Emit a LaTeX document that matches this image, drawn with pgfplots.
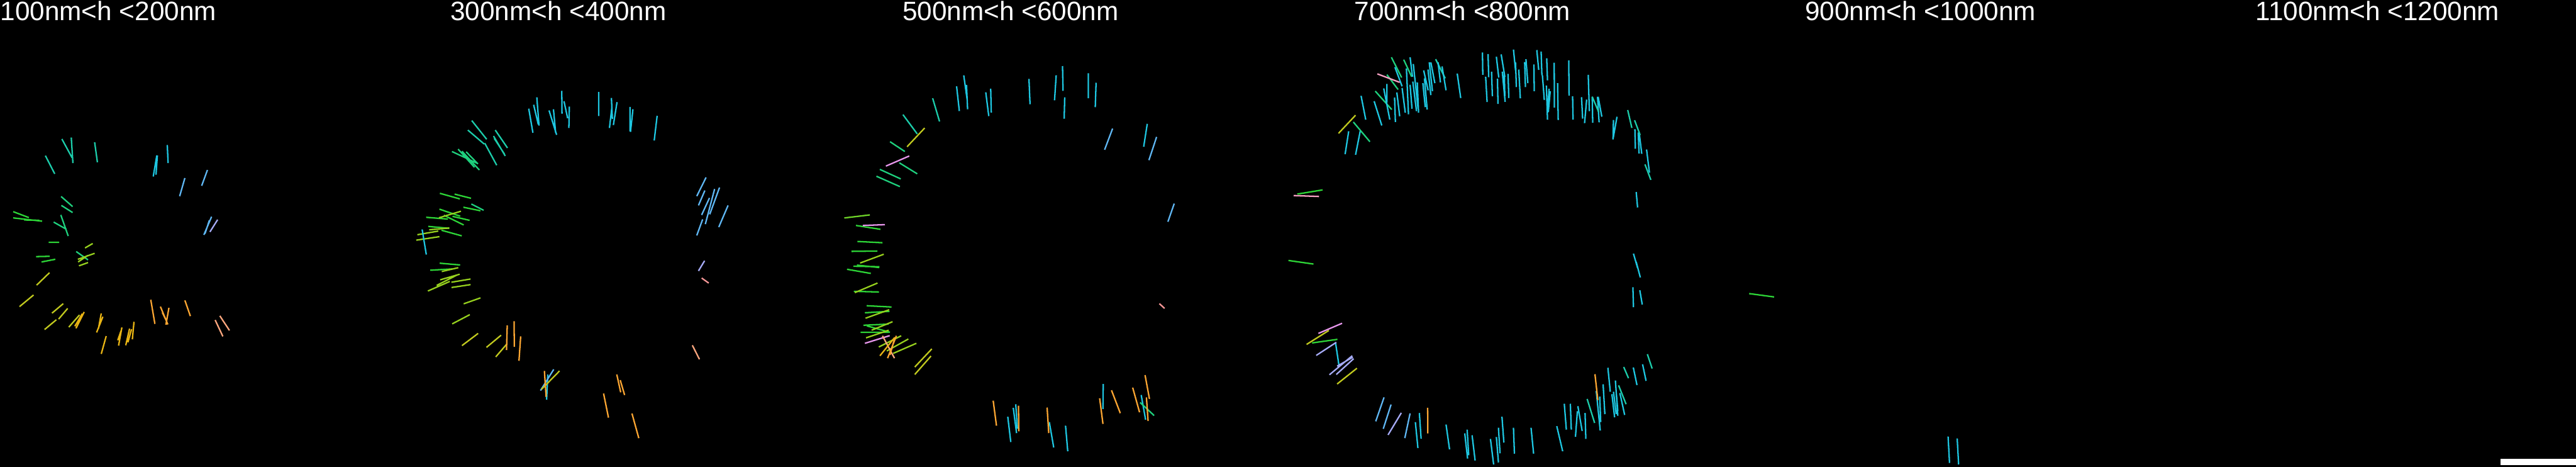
\documentclass[border=0pt]{standalone}
\usepackage{pgfplots}
\pgfplotsset{compat=1.18}
\usepackage{fontspec}
\setmainfont{Liberation Sans}
\definecolor{cy}{RGB}{30,198,224}
\definecolor{tl}{RGB}{28,204,170}
\definecolor{tg}{RGB}{30,208,125}
\definecolor{gr}{RGB}{45,212,55}
\definecolor{lg}{RGB}{110,210,40}
\definecolor{yg}{RGB}{150,208,30}
\definecolor{ol}{RGB}{192,200,30}
\definecolor{gd}{RGB}{232,180,20}
\definecolor{orc}{RGB}{250,165,50}
\definecolor{sa}{RGB}{250,165,125}
\definecolor{rose}{RGB}{245,150,150}
\definecolor{lb}{RGB}{95,182,242}
\definecolor{pw}{RGB}{165,170,245}
\definecolor{vi}{RGB}{230,150,235}
\definecolor{pk}{RGB}{245,160,195}
\pgfplotsset{
  seg/.style={hide axis, scale only axis, clip=false, y dir=reverse,
    unbounded coords=jump, anchor=north west,
    every axis plot/.append style={line width=0.75pt, mark=none}},
}
\begin{document}
\begin{tikzpicture}
\useasboundingbox (0,0) rectangle (1343.5pt,-243.25pt);
\fill[black] (0,0) rectangle (1343.5pt,-243.25pt);

% main axis: full-resolution pixel coordinates
\begin{axis}[seg, at={(0pt,0pt)}, width=1343.5pt, height=243.25pt,
  xmin=0, xmax=5374, ymin=0, ymax=973]
\addplot[gr] coordinates {(3649,612) (3701,619)};
\addplot[cy] coordinates {(4064,910) (4067,965) (nan,nan) (4083,914) (4086,968)};
\fill[white] (axis cs:5216,956) rectangle (axis cs:5374,970);
\begin{scope}[every node/.style={anchor=base west, inner sep=0pt, text=white, font=\fontsize{13.875}{16}\selectfont}]
\node at (axis cs:0,43) {100nm<h <200nm};
\node at (axis cs:939,43) {300nm<h <400nm};
\node at (axis cs:1882,43) {500nm<h <600nm};
\node at (axis cs:2825,43) {700nm<h <800nm};
\node at (axis cs:3765,43) {900nm<h <1000nm};
\node at (axis cs:4705,43) {1100nm<h <1200nm};
\end{scope}
\end{axis}

% panel 1
\begin{axis}[seg, at={(0pt,0pt)}, width=225pt, height=243.25pt,
  xmin=0, xmax=1568, ymin=0, ymax=1568]
\addplot[tl] coordinates {(225,467)(262,530) (nan,nan) (259,462)(265,548) (nan,nan) (344,478)(354,545) (nan,nan) (165,523)(199,584)};
\addplot[cy] coordinates {(570,522)(557,593) (nan,nan) (572,522)(567,587) (nan,nan) (608,487)(611,548)};
\addplot[lb] coordinates {(672,598)(653,659) (nan,nan) (754,571)(733,624) (nan,nan) (769,728)(741,789) (nan,nan) (761,740)(745,785)};
\addplot[pw] coordinates {(791,738)(763,779)};
\addplot[tg] coordinates {(222,660)(264,694) (nan,nan) (223,690)(264,714) (nan,nan) (221,722)(248,793) (nan,nan) (195,746)(241,770) (nan,nan) (277,845)(320,873)};
\addplot[gr] coordinates {(48,711)(105,731) (nan,nan) (48,732)(153,743) (nan,nan) (88,739)(143,740) (nan,nan) (177,814)(215,814) (nan,nan) (131,862)(181,861) (nan,nan) (151,880)(201,871)};
\addplot[yg] coordinates {(309,833)(337,818) (nan,nan) (283,871)(344,851) (nan,nan) (284,880)(319,858) (nan,nan) (287,893)(320,882)};
\addplot[ol] coordinates {(133,958)(180,916) (nan,nan) (71,1030)(122,991) (nan,nan) (189,1052)(230,1020) (nan,nan) (213,1072)(246,1036) (nan,nan) (162,1107)(205,1074) (nan,nan) (250,1099)(289,1058)};
\addplot[gd] coordinates {(276,1103)(306,1048) (nan,nan) (272,1096)(299,1054) (nan,nan) (351,1117)(374,1064) (nan,nan) (358,1103)(368,1053) (nan,nan) (368,1189)(386,1129) (nan,nan) (431,1161)(443,1100) (nan,nan) (428,1143)(440,1111) (nan,nan) (457,1160)(471,1104) (nan,nan) (465,1150)(478,1106) (nan,nan) (481,1140)(487,1081)};
\addplot[orc] coordinates {(548,1007)(563,1088) (nan,nan) (583,1030)(610,1090) (nan,nan) (590,1050)(605,1078) (nan,nan) (614,1034)(603,1091) (nan,nan) (672,1009)(692,1062)};
\addplot[sa] coordinates {(782,1075)(810,1130) (nan,nan) (799,1061)(834,1110)};
\end{axis}

% panel 2 (outer parts)
\begin{axis}[seg, at={(212.5pt,0pt)}, width=200pt, height=243.25pt,
  xmin=0, xmax=1568, ymin=0, ymax=1568]
\addplot[cy] coordinates {(496,365)(513,446) (nan,nan) (516,352)(535,418) (nan,nan) (529,327)(538,422) (nan,nan) (579,371)(605,440) (nan,nan) (597,367)(606,446) (nan,nan) (590,400)(610,453) (nan,nan) (631,305)(632,382) (nan,nan) (640,340)(655,397) (nan,nan) (662,358)(660,430) (nan,nan) (782,309)(782,390) (nan,nan) (834,329)(838,400) (nan,nan) (836,360)(826,430) (nan,nan) (857,343)(842,420) (nan,nan) (910,359)(910,441) (nan,nan) (922,367)(912,443) (nan,nan) (1021,389)(1009,472) (nan,nan) (574,1258)(569,1343)};
\addplot[tl] coordinates {(263,405)(324,468) (nan,nan) (247,437)(314,484) (nan,nan) (316,481)(365,555) (nan,nan) (359,437)(409,497) (nan,nan) (352,457)(400,524) (nan,nan) (355,465)(397,518)};
\addplot[tg] coordinates {(182,509)(289,550) (nan,nan) (207,501)(274,562) (nan,nan) (223,508)(294,571) (nan,nan) (240,510)(285,548)};
\addplot[lb] coordinates {(1221,596)(1183,659) (nan,nan) (1216,640)(1190,690) (nan,nan) (1256,635)(1218,753) (nan,nan) (1276,630)(1236,720) (nan,nan) (1235,665)(1203,722) (nan,nan) (1207,737)(1183,791) (nan,nan) (1311,690)(1273,763) (nan,nan) (598,1241)(544,1312)};
\addplot[pw] coordinates {(1215,876)(1190,910)};
\addplot[rose] coordinates {(1203,934)(1232,951)};
\addplot[yg] coordinates {(183,1088)(255,1057)};
\addplot[ol] coordinates {(223,1161)(289,1120) (nan,nan) (323,1167)(383,1126) (nan,nan) (361,1199)(405,1157) (nan,nan) (622,1246)(548,1308)};
\addplot[orc] coordinates {(408,1093)(405,1176) (nan,nan) (436,1079)(437,1165) (nan,nan) (463,1130)(456,1212) (nan,nan) (560,1246)(567,1333) (nan,nan) (856,1258)(872,1318) (nan,nan) (870,1277)(888,1327) (nan,nan) (802,1322)(822,1403) (nan,nan) (918,1389)(946,1472)};
\addplot[sa] coordinates {(1165,1160)(1194,1207)};
\end{axis}

% panel 2 left cluster
\begin{axis}[seg, at={(212.5pt,-80pt)}, width=75pt, height=82.5pt,
  xmin=0, xmax=900, ymin=0, ymax=990]
\addplot[gr] coordinates {(203,249)(328,284) (nan,nan) (295,254)(398,280) (nan,nan) (350,336)(457,358) (nan,nan) (200,348)(330,392) (nan,nan) (117,399)(253,410) (nan,nan) (282,393)(389,418) (nan,nan) (228,386)(352,447) (nan,nan) (131,456)(262,468) (nan,nan) (213,480)(340,515) (nan,nan) (202,686)(330,697) (nan,nan) (143,730)(280,722)};
\addplot[tg] coordinates {(400,316)(477,355)};
\addplot[yg] coordinates {(197,402)(335,361) (nan,nan) (136,477)(262,466) (nan,nan) (62,508)(193,485) (nan,nan) (55,542)(200,520) (nan,nan) (215,738)(318,714) (nan,nan) (205,790)(327,755) (nan,nan) (183,825)(310,760) (nan,nan) (128,860)(265,800) (nan,nan) (275,805)(395,785) (nan,nan) (276,838)(395,820) (nan,nan) (352,940)(457,903)};
\addplot[cy] coordinates {(92,475)(118,632)};
\end{axis}

% panel 3 (outer parts)
\begin{axis}[seg, at={(425pt,0pt)}, width=225pt, height=243.25pt,
  xmin=0, xmax=1568, ymin=0, ymax=1568]
\addplot[tl] coordinates {(428,330)(453,408) (nan,nan) (320,385)(372,450)};
\addplot[cy] coordinates {(515,290)(525,373) (nan,nan) (541,253)(553,332) (nan,nan) (551,285)(555,367) (nan,nan) (621,310)(632,390) (nan,nan) (639,298)(641,378) (nan,nan) (778,265)(782,350) (nan,nan) (877,253)(871,337) (nan,nan) (900,222)(902,305) (nan,nan) (908,327)(906,399) (nan,nan) (994,246)(994,330) (nan,nan) (1022,278)(1019,360) (nan,nan) (1208,416)(1195,493) (nan,nan) (701,1400)(712,1485) (nan,nan) (721,1370)(733,1455) (nan,nan) (730,1358)(736,1440) (nan,nan) (852,1418)(868,1503) (nan,nan) (911,1430)(919,1516) (nan,nan) (1048,1290)(1047,1374) (nan,nan) (1186,1327)(1202,1410)};
\addplot[lb] coordinates {(1082,432)(1053,503) (nan,nan) (1242,460)(1214,538) (nan,nan) (1306,684)(1283,745)};
\addplot[rose] coordinates {(1252,1020)(1271,1036)};
\addplot[ol] coordinates {(399,430)(335,493) (nan,nan) (425,1172)(363,1233) (nan,nan) (422,1196)(363,1258)};
\addplot[tg] coordinates {(273,476)(327,509) (nan,nan) (307,547)(372,584) (nan,nan) (236,569)(312,601) (nan,nan) (1182,1352)(1233,1396)};
\addplot[vi] coordinates {(258,558)(343,524)};
\addplot[orc] coordinates {(648,1346)(660,1430) (nan,nan) (740,1363)(741,1449) (nan,nan) (844,1369)(850,1455) (nan,nan) (1035,1338)(1047,1424) (nan,nan) (1078,1311)(1110,1388) (nan,nan) (1155,1302)(1180,1385) (nan,nan) (1200,1260)(1216,1340) (nan,nan) (1205,1335)(1211,1414)};
\end{axis}

% panel 3 left cluster
\begin{axis}[seg, at={(435pt,-90pt)}, width=65pt, height=100pt,
  xmin=0, xmax=780, ymin=0, ymax=1200]
\addplot[tg] coordinates {(265,22)(412,87)};
\addplot[lg] coordinates {(64,283)(224,264)};
\addplot[gr] coordinates {(137,330)(290,354) (nan,nan) (146,430)(303,438) (nan,nan) (109,492)(271,490) (nan,nan) (121,585)(284,588) (nan,nan) (143,578)(283,593) (nan,nan) (81,604)(230,630) (nan,nan) (124,742)(281,746) (nan,nan) (204,832)(360,840) (nan,nan) (193,876)(347,867) (nan,nan) (184,954)(341,947) (nan,nan) (205,958)(350,998) (nan,nan) (166,998)(342,998)};
\addplot[vi] coordinates {(180,330)(318,325) (nan,nan) (193,1067)(348,1019)};
\addplot[yg] coordinates {(163,565)(311,510) (nan,nan) (130,750)(272,690) (nan,nan) (197,910)(345,857) (nan,nan) (235,985)(366,932) (nan,nan) (200,1033)(342,985) (nan,nan) (280,1090)(420,1020) (nan,nan) (330,1115)(465,1040) (nan,nan) (370,1130)(515,1067)};
\addplot[sa] coordinates {(303,1020)(378,1160)};
\addplot[gd] coordinates {(287,1145)(380,1030)};
\addplot[orc] coordinates {(335,1160)(390,1020) (nan,nan) (350,1140)(375,1050)};
\end{axis}

% panel 4 (outer parts)
\begin{axis}[seg, at={(662.5pt,0pt)}, width=225pt, height=243.25pt,
  xmin=0, xmax=1568, ymin=0, ymax=1568]
\addplot[cy] coordinates {(330,322)(347,402) (nan,nan) (272,518)(285,441) (nan,nan) (310,520)(327,440) (nan,nan) (237,1150)(250,1230) (nan,nan) (1330,645)(1335,697) (nan,nan) (1320,852)(1335,900) (nan,nan) (1330,880)(1345,932) (nan,nan) (1318,965)(1320,1032) (nan,nan) (1343,975)(1352,1023)};
\addplot[ol] coordinates {(248,448)(310,387) (nan,nan) (132,1157)(213,1110) (nan,nan) (243,1290)(315,1237)};
\addplot[tg] coordinates {(302,410)(362,476)};
\addplot[gr] coordinates {(98,652)(190,638) (nan,nan) (66,875)(157,887) (nan,nan) (152,1152)(244,1140)};
\addplot[pk] coordinates {(85,657)(177,660)};
\addplot[vi] coordinates {(175,1120)(261,1086)};
\addplot[pw] coordinates {(167,1194)(240,1150) (nan,nan) (215,1259)(298,1195) (nan,nan) (240,1258)(303,1205) (nan,nan) (243,1230)(300,1200)};
\end{axis}

% panel 4 top left
\begin{axis}[seg, at={(715pt,-20pt)}, width=75pt, height=75pt,
  xmin=0, xmax=900, ymin=0, ymax=900]
\addplot[tg] coordinates {(128,118)(192,245) (nan,nan) (205,133)(255,240) (nan,nan) (100,227)(170,320) (nan,nan) (27,330)(130,445)};
\addplot[tl] coordinates {(405,130)(465,250)};
\addplot[cy] coordinates {(20,393)(68,545) (nan,nan) (80,313)(118,508) (nan,nan) (100,285)(100,400) (nan,nan) (148,370)(153,523) (nan,nan) (162,338)(180,487) (nan,nan) (150,180)(195,300) (nan,nan) (195,310)(215,465) (nan,nan) (222,188)(235,475) (nan,nan) (245,118)(260,240) (nan,nan) (245,290)(257,440) (nan,nan) (265,160)(295,440) (nan,nan) (262,270)(285,455) (nan,nan) (290,275)(298,465) (nan,nan) (330,200)(358,325) (nan,nan) (325,280)(340,430) (nan,nan) (335,250)(352,445) (nan,nan) (357,195)(375,355) (nan,nan) (365,150)(385,330) (nan,nan) (375,150)(400,280) (nan,nan) (445,175)(470,325) (nan,nan) (420,150)(435,275) (nan,nan) (540,220)(562,373) (nan,nan) (698,88)(700,228) (nan,nan) (733,98)(737,243) (nan,nan) (718,240)(727,398) (nan,nan) (755,208)(760,362) (nan,nan) (785,115)(800,245) (nan,nan) (792,252)(795,410) (nan,nan) (815,100)(838,240) (nan,nan) (822,208)(840,397) (nan,nan) (835,225)(838,362) (nan,nan) (858,222)(863,373)};
\addplot[pk] coordinates {(40,222)(180,275)};
\end{axis}

% panel 4 top right
\begin{axis}[seg, at={(787.5pt,-20pt)}, width=80pt, height=80pt,
  xmin=0, xmax=960, ymin=0, ymax=960]
\addplot[cy] coordinates {(22,70)(35,200) (nan,nan) (35,150)(40,305) (nan,nan) (55,195)(65,375) (nan,nan) (92,148)(97,305) (nan,nan) (100,130)(112,280) (nan,nan) (150,163)(152,330) (nan,nan) (168,73)(180,197) (nan,nan) (195,82)(200,230) (nan,nan) (203,230)(215,385) (nan,nan) (230,125)(235,262) (nan,nan) (228,295)(235,508) (nan,nan) (245,315)(235,465) (nan,nan) (252,330)(240,460) (nan,nan) (277,152)(278,433) (nan,nan) (298,280)(302,510) (nan,nan) (368,137)(370,358) (nan,nan) (392,362)(395,508) (nan,nan) (448,368)(455,502) (nan,nan) (480,383)(467,530) (nan,nan) (490,228)(497,455) (nan,nan) (515,365)(518,528) (nan,nan) (548,365)(558,525) (nan,nan) (552,365)(575,490) (nan,nan) (648,510)(645,632) (nan,nan) (670,490)(645,630) (nan,nan) (782,568)(785,690) (nan,nan) (803,588)(808,720) (nan,nan) (810,600)(825,722) (nan,nan) (855,695)(873,840)};
\addplot[tl] coordinates {(515,365)(555,460) (nan,nan) (737,448)(763,560) (nan,nan) (780,512)(815,605) (nan,nan) (845,788)(882,885)};
\end{axis}

% panel 4 bottom left
\begin{axis}[seg, at={(712.5pt,-162.5pt)}, width=80pt, height=80.75pt,
  xmin=0, xmax=960, ymin=0, ymax=969]
\addplot[lb] coordinates {(112,535)(60,685) (nan,nan) (156,580)(107,732) (nan,nan) (275,635)(242,790)};
\addplot[pw] coordinates {(220,632)(137,770)};
\addplot[cy] coordinates {(308,690)(324,852) (nan,nan) (333,633)(344,793) (nan,nan) (500,705)(522,860) (nan,nan) (617,760)(635,918) (nan,nan) (632,737)(642,897) (nan,nan) (663,772)(682,930) (nan,nan) (778,795)(798,955) (nan,nan) (815,783)(828,942) (nan,nan) (828,725)(838,885) (nan,nan) (850,656)(862,818)};
\addplot[orc] coordinates {(385,600)(386,760)};
\end{axis}

% panel 4 bottom right
\begin{axis}[seg, at={(787.5pt,-162.5pt)}, width=80pt, height=80.75pt,
  xmin=0, xmax=960, ymin=0, ymax=969]
\addplot[cy] coordinates {(22,725)(28,887) (nan,nan) (132,725)(148,887) (nan,nan) (293,715)(330,872) (nan,nan) (340,575)(353,737) (nan,nan) (378,575)(384,737) (nan,nan) (425,590)(452,745) (nan,nan) (422,622)(410,782) (nan,nan) (470,633)(475,795) (nan,nan) (540,495)(565,742) (nan,nan) (562,530)(568,690) (nan,nan) (583,453)(594,640) (nan,nan) (613,350)(628,500) (nan,nan) (638,515)(655,660) (nan,nan) (660,430)(675,650) (nan,nan) (648,500)(665,640) (nan,nan) (665,500)(675,620) (nan,nan) (688,508)(718,645) (nan,nan) (772,348)(795,458) (nan,nan) (830,328)(852,432)};
\addplot[tl] coordinates {(483,545)(530,695) (nan,nan) (680,460)(727,578) (nan,nan) (712,345)(742,415) (nan,nan) (860,265)(890,355)};
\addplot[orc] coordinates {(532,390)(550,552)};
\end{axis}
\end{tikzpicture}
\end{document}
